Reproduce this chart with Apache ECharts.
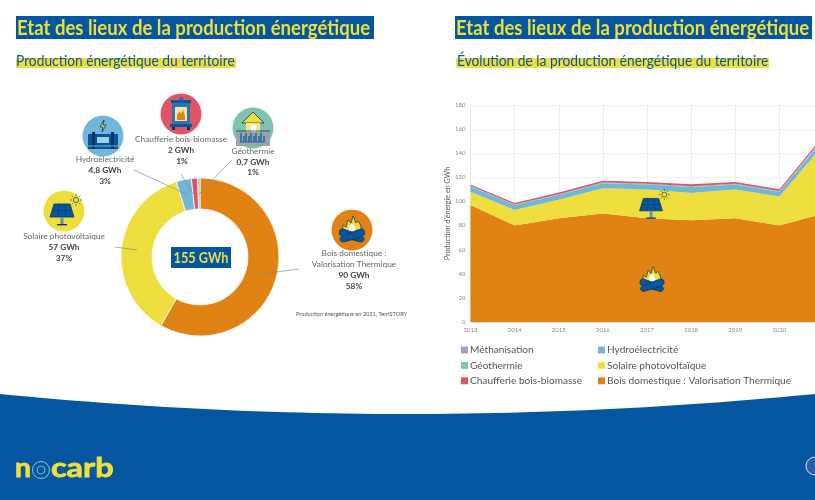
<!DOCTYPE html>
<html>
<head>
<meta charset="utf-8">
<style>html,body{margin:0;padding:0;background:#fff;overflow:hidden}#main{width:815px;height:500px}</style>
<script src="https://cdn.jsdelivr.net/npm/echarts@6/dist/echarts.min.js"></script>
</head>
<body>
<div id="main"></div>
<script>
// values
const years = ['2013','2014','2015','2016','2017','2018','2019','2020','2021'];
const bois = [97, 80, 86, 90, 86, 84.5, 86, 80, 90];
const solaire = [11, 13, 15.5, 21, 24, 22.5, 24, 24, 57];
const hydro = [4.5, 4, 4, 4, 4, 5, 4, 4, 4.8];
const geo = [0.5, 0.5, 0.5, 0.7, 0.7, 0.7, 0.7, 0.7, 0.7];
const chaufferie = [1, 1.2, 1.5, 1.5, 1.5, 1.5, 1.5, 1.5, 2];
const metha = [0, 0, 0, 0, 0, 0, 0, 0, 0];

const names = ['Bois domestique : Valorisation Thermique', 'Solaire photovoltaïque', 'Hydroélectricité', 'Chaufferie bois-biomasse', 'Géothermie'];
const prod2021 = [90, 57, 4.8, 2, 0.7];
const pieColors = ['#e08214', '#eedf3e', '#72b7d9', '#df5566', '#7fc4b0'];

const BLUE = '#03569f', YELLOW = '#eedf3e', INK = '#10305a';
const BODY = 'Lato';

function txt(x, y, s, size, color, weight, align) {
  return { type: 'text', x: x, y: y, z: 20, style: { text: s, fontFamily: BODY, fontSize: size, fill: color, fontWeight: weight || 'normal', align: align || 'center', verticalAlign: 'middle' } };
}
function squeezed(x, y, s, size, color, weight, sx, align) {
  const t = txt(x, y, s, size, color, weight, align || 'left');
  t.scaleX = sx;
  t.z = 13;
  return t;
}
function box(x, y, w, h, c, z) {
  return { type: 'rect', z: z || 5, shape: { x: x, y: y, width: w, height: h }, style: { fill: c } };
}
function line(pts, c) {
  return { type: 'polyline', z: 20, shape: { points: pts }, style: { stroke: c || '#8a8a8a', lineWidth: 0.7, fill: null } };
}
function disc(x, y, r, c) {
  return { type: 'circle', z: 10, shape: { cx: x, cy: y, r: r }, style: { fill: c } };
}
function poly(pts, fill, smooth, stroke) {
  return { type: 'polygon', shape: { points: pts, smooth: smooth || 0 }, style: { fill: fill, stroke: stroke || null, lineWidth: stroke ? 0.8 : 0 } };
}
function group(x, y, s, children) {
  return { type: 'group', x: x, y: y, scaleX: s, scaleY: s, z: 15, children: children.map(c => Object.assign({ z: 15 }, c)) };
}
function seg(a, b, c, d, col, w) {
  return { type: 'line', shape: { x1: a, y1: b, x2: c, y2: d }, style: { stroke: col || INK, lineWidth: w || 0.6 } };
}

// small pictograms
function solarIcon(x, y, s) {
  const kids = [
    poly([[-8, -9], [8, -9], [12, 4], [-12, 4]], BLUE, 0, INK),
    seg(-10, -2.5, 10, -2.5), seg(-3, -9, -4, 4), seg(3, -9, 4, 4),
    box(-1.5, 4, 3, 7, '#5b93b5', 15), box(-5, 11, 10, 1.4, INK, 15),
    { type: 'circle', shape: { cx: 14, cy: -13, r: 2.6 }, style: { fill: null, stroke: INK, lineWidth: 0.7 } }
  ];
  for (let i = 0; i < 8; i++) {
    const a = i * Math.PI / 4;
    kids.push(seg(14 + 4 * Math.cos(a), -13 + 4 * Math.sin(a), 14 + 6 * Math.cos(a), -13 + 6 * Math.sin(a), INK, 0.6));
  }
  return group(x, y, s, kids);
}
function fireIcon(x, y, s) {
  return group(x, y, s, [
    poly([[-8, 2], [-9, -5], [-6, -3], [-4, -10], [-1, -7], [1, -14], [4, -7], [6, -9], [9, -3], [8, 3]], YELLOW, 0.3, INK),
    poly([[-3, 3], [-3, -2], [0, -6], [3, -2], [3, 3]], '#ffffff', 0.4),
    poly([[-12, 0], [-9, -1], [11, 7], [12, 10], [9, 12], [-12, 5]], BLUE, 0.3, INK),
    poly([[12, 0], [9, -1], [-11, 7], [-12, 10], [-9, 12], [12, 5]], BLUE, 0.3, INK)
  ]);
}
function stoveIcon(x, y, s) {
  return group(x, y, s, [
    box(-2, -17, 4, 3, '#3a6ea5', 15),
    box(-10, -14, 20, 3, BLUE, 15),
    box(-9, -11, 18, 21, '#2f74b0', 15),
    box(-6, -7, 12, 14, '#f5e6a0', 15),
    poly([[-4, 6], [-4, 1], [-1.5, -3], [0, 0], [2, -4], [4, 2], [4, 6]], '#e08214'),
    box(-11, 10, 22, 3, BLUE, 15),
    box(-9, 13, 3, 3, INK, 15), box(6, 13, 3, 3, INK, 15)
  ]);
}
function damIcon(x, y, s) {
  return group(x, y, s, [
    poly([[1, -16], [-3, -9], [0, -9], [-1, -4], [3, -11], [0, -11]], '#eedf3e', 0, INK),
    box(-15, -2, 30, 15, BLUE, 15),
    box(-11, -4, 3, 17, INK, 15), box(8, -4, 3, 17, INK, 15),
    box(-6, 1, 12, 6, '#9fd0e6', 15),
    seg(-15, 10, 15, 10, '#9fd0e6', 0.8)
  ]);
}
function houseIcon(x, y, s) {
  const kids = [
    box(-17, 3, 34, 15, '#9aa5ab', 15),
    poly([[-11, -5], [0, -16], [11, -5]], YELLOW, 0, INK),
    box(-7, -5, 14, 9, '#f2e88a', 15),
    box(-2, -3, 5, 7, '#ffffff', 15),
    seg(-17, 3, 17, 3, INK, 0.8)
  ];
  [-12, -7, -2, 3, 8].forEach(px => kids.push(
    { type: 'polyline', shape: { points: [[px, 5], [px, 14], [px + 3, 14], [px + 3, 8]] }, style: { stroke: BLUE, lineWidth: 1.2, fill: null } }
  ));
  return group(x, y, s, kids);
}

// footer band with its curved top edge
const footerEdge = [[0, 500]];
for (let x = 0; x <= 815; x += 15) {
  const u = (x - 407) / 407;
  footerEdge.push([x, 414 - 20 * u * u]);
}
footerEdge.push([815, 394], [815, 500]);

function logoText(x, s, sx) {
  const t = squeezed(x, 468, s, 27, YELLOW, 'bold', sx);
  t.style.stroke = YELLOW;
  t.style.lineWidth = 0.8;
  return t;
}

const TITLE = 'Etat des lieux de la production énergétique';
const deco = [
  { type: 'polygon', z: 1, shape: { points: footerEdge }, style: { fill: BLUE } },
  // headings
  box(16, 16, 358, 23, BLUE), squeezed(17, 28, TITLE, 20.5, YELLOW, 'bold', 0.905),
  box(455, 16, 357, 23, BLUE), squeezed(456, 28, TITLE, 20.5, YELLOW, 'bold', 0.905),
  box(16, 58, 220, 10, YELLOW), squeezed(16, 61, 'Production énergétique du territoire', 14.5, BLUE, 'normal', 0.95),
  box(456, 58, 313, 10, YELLOW), squeezed(457, 61, 'Évolution de la production énergétique du territoire', 14.5, BLUE, 'normal', 0.95),
  // donut centre
  box(171, 247, 60, 21, BLUE, 12),
  squeezed(201, 258, '155 GWh', 14.5, YELLOW, 'bold', 0.88, 'center'),
  // icons around the donut
  disc(64, 211, 20.5, YELLOW), solarIcon(62, 213, 1),
  disc(103, 136, 20.5, '#72b7d9'), damIcon(103, 136, 1),
  disc(181, 114, 20.5, '#df5566'), stoveIcon(181, 114, 1),
  disc(253, 128, 20.5, '#7fc4b0'), houseIcon(253, 128, 1),
  disc(352, 230, 20.5, '#e08214'), fireIcon(352, 230, 1),
  // icons on the area chart
  solarIcon(651, 207, 0.95), fireIcon(652, 280, 0.95),
  // slice labels
  txt(64, 236, 'Solaire photovoltaïque', 8.3, '#666'), txt(64, 247, '57 GWh', 8.3, '#444', 'bold'), txt(64, 258, '37%', 8.3, '#444', 'bold'),
  txt(105, 159, 'Hydroélectricité', 8.3, '#666'), txt(105, 170, '4,8 GWh', 8.3, '#444', 'bold'), txt(105, 181, '3%', 8.3, '#444', 'bold'),
  txt(181, 139, 'Chaufferie bois-biomasse', 8.3, '#666'), txt(181, 150, '2 GWh', 8.3, '#444', 'bold'), txt(182, 161, '1%', 8.3, '#444', 'bold'),
  txt(253, 151, 'Géothermie', 8.3, '#666'), txt(253, 162, '0,7 GWh', 8.3, '#444', 'bold'), txt(253, 172, '1%', 8.3, '#444', 'bold'),
  txt(354, 253, 'Bois domestique :', 8.3, '#666'), txt(354, 264, 'Valorisation Thermique', 8.3, '#666'), txt(354, 275, '90 GWh', 8.3, '#444', 'bold'), txt(354, 286, '58%', 8.3, '#444', 'bold'),
  txt(296, 314, 'Production énergétique en 2021, TerriSTORY', 5.6, '#555', 'normal', 'left'),
  // leader lines
  line([[134, 170], [188, 195]]), line([[181, 174], [193, 194]]), line([[231, 161], [199, 194]]),
  line([[115, 247], [137, 250]]), line([[299, 269], [261, 274]]),
  // footer logo
  logoText(15, 'n', 1.05),
  { type: 'circle', z: 8, shape: { cx: 41, cy: 470, r: 8.5 }, style: { fill: null, stroke: '#9cc2d8', lineWidth: 1 } },
  { type: 'circle', z: 8, shape: { cx: 41, cy: 470, r: 4 }, style: { fill: null, stroke: '#9cc2d8', lineWidth: 0.8 } },
  logoText(51, 'carb', 1.2),
  { type: 'circle', z: 8, shape: { cx: 815, cy: 466, r: 9 }, style: { fill: '#2f5ca8', stroke: '#dfe8f2', lineWidth: 1 } }
];

function area(name, data, color) {
  return {
    name: name, type: 'line', stack: 'prod', data: data, showSymbol: false, silent: true,
    lineStyle: { width: 0 }, areaStyle: { color: color, opacity: 1 }, itemStyle: { color: color }
  };
}

const legendBase = {
  top: 340, orient: 'vertical', itemWidth: 7, itemHeight: 7, itemGap: 5.4, icon: 'rect', selectedMode: false,
  textStyle: { fontFamily: BODY, fontSize: 10.1, color: '#555', padding: [0, 0, 0, -3] }
};

const myChart = echarts.init(document.getElementById('main'), null, { renderer: 'canvas' });
myChart.setOption({
  animation: false,
  backgroundColor: '#fff',
  graphic: deco,
  grid: { left: 470.5, top: 105, width: 353, height: 217, containLabel: false, outerBoundsMode: 'none' },
  legend: [
    Object.assign({ left: 456, data: ['Méthanisation', 'Géothermie', 'Chaufferie bois-biomasse'] }, legendBase),
    Object.assign({ left: 593, data: ['Hydroélectricité', 'Solaire photovoltaïque', 'Bois domestique : Valorisation Thermique'] }, legendBase)
  ],
  xAxis: {
    type: 'category', data: years, boundaryGap: false,
    axisLine: { lineStyle: { color: '#ddd' } }, axisTick: { show: false },
    axisLabel: { fontFamily: BODY, fontSize: 6, color: '#888', margin: 5 },
    splitLine: { show: true, lineStyle: { color: '#e8e8e8', width: 0.8 } }
  },
  yAxis: {
    type: 'value', min: 0, max: 180, interval: 20,
    name: "Production d'énergie en GWh", nameLocation: 'middle', nameGap: 15, nameRotate: 90,
    nameTextStyle: { fontFamily: BODY, fontSize: 7.2, color: '#555' },
    axisLine: { show: true, lineStyle: { color: '#e4e4e4' } }, axisTick: { show: false },
    axisLabel: { fontFamily: BODY, fontSize: 6, color: '#888', margin: 5 },
    splitLine: { lineStyle: { color: '#eee', width: 0.8 } }
  },
  series: [
    area('Bois domestique : Valorisation Thermique', bois, '#e08214'),
    area('Solaire photovoltaïque', solaire, '#eedf3e'),
    area('Hydroélectricité', hydro, '#72b7d9'),
    area('Géothermie', geo, '#7fc4b0'),
    area('Chaufferie bois-biomasse', chaufferie, '#df5566'),
    area('Méthanisation', metha, '#a49cc9'),
    {
      type: 'pie', center: [200, 257], radius: [48, 79], startAngle: 90, clockwise: true, silent: true,
      label: { show: false }, labelLine: { show: false },
      itemStyle: { borderColor: '#fff', borderWidth: 0.8 },
      data: names.map((n, i) => ({ name: n, value: prod2021[i], itemStyle: { color: pieColors[i] } }))
    }
  ]
});
</script>
</body>
</html>
